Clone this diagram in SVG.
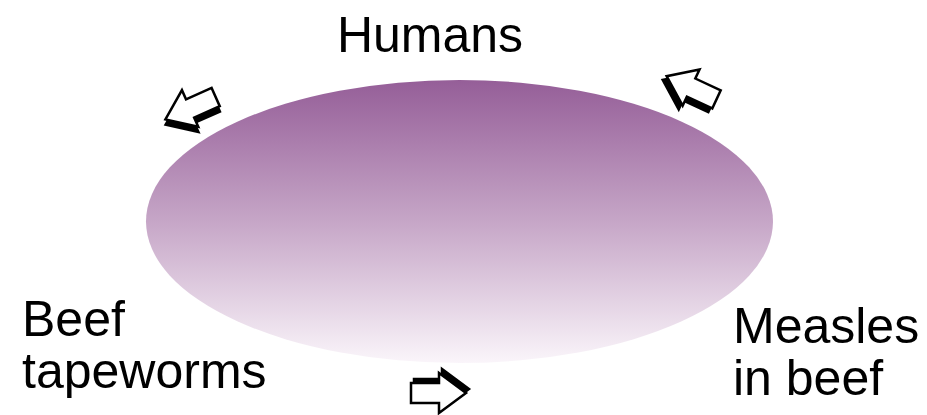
<svg xmlns="http://www.w3.org/2000/svg" width="927" height="415" viewBox="0 0 927 415">
<defs>
<linearGradient id="g" x1="0" y1="0" x2="0" y2="1">
<stop offset="0" stop-color="#955e98"/>
<stop offset="0.5" stop-color="#c6a6c7"/>
<stop offset="1" stop-color="#faf5fa"/>
</linearGradient>
<path id="arr" d="M-27,-10 L1,-10 L1,-20 L28,0 L1,20 L1,10 L-27,10 Z"/>
</defs>
<style>
.lbl{font-family:"Liberation Sans",Arial,sans-serif;font-size:50px;fill:#000}
.sh{fill:#000;stroke:#000;stroke-width:2.5;stroke-linejoin:miter}
.fr{fill:#fff;stroke:#000;stroke-width:2.5;stroke-linejoin:miter}
</style>
<rect width="927" height="415" fill="#fff"/>
<g id="cycle">
<ellipse cx="459.5" cy="221.5" rx="313.5" ry="141.5" fill="url(#g)"/>
</g>
<g id="connectors">
<g transform="translate(191,108) rotate(156)">
<use href="#arr" class="sh" transform="translate(2,-5)"/>
<use href="#arr" class="fr"/>
</g>
<g transform="translate(692,88) rotate(205)">
<use href="#arr" class="sh" transform="translate(2,-5)"/>
<use href="#arr" class="fr"/>
</g>
<g transform="translate(438,393) rotate(0)">
<use href="#arr" class="sh" transform="translate(3,-4)"/>
<use href="#arr" class="fr"/>
</g>
</g>
<g id="humans"><text class="lbl" x="430" y="52" text-anchor="middle">Humans</text></g>
<g id="tapeworms"><text class="lbl" x="22" y="336">Beef</text><text class="lbl" x="22" y="388">tapeworms</text></g>
<g id="measles"><text class="lbl" x="733" y="343">Measles</text><text class="lbl" x="733" y="395">in beef</text></g>
</svg>
